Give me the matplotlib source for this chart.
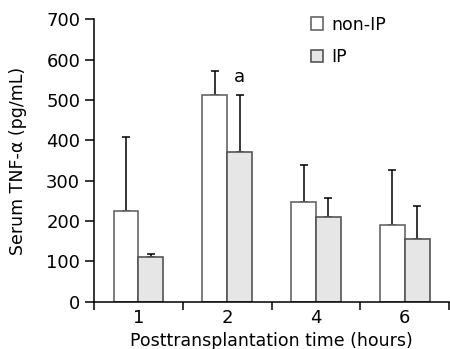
import matplotlib.pyplot as plt
import numpy as np

times = ["1", "2", "4", "6"]
non_ip = [224, 513, 247, 190]
non_ip_err = [184, 58, 92, 137]
ip = [110, 370, 209, 156]
ip_err = [9, 142, 48, 81]

plt.rcParams['font.family'] = ['DejaVu Sans']
plt.rcParams['font.size'] = 12.5

fig = plt.figure(figsize=(4.5, 3.49), dpi=100)
ax = fig.add_axes([0.209, 0.1355, 0.789, 0.8095])

x = np.arange(len(times)) + 0.5
w = 0.28
ax.bar(x - w / 2, non_ip, w, color="white", edgecolor="#666666", linewidth=1.2,
       label="non-IP", zorder=2)
ax.bar(x + w / 2, ip, w, color="#e6e6e6", edgecolor="#555555", linewidth=1.2,
       label="IP", zorder=2)
ax.errorbar(x - w / 2, non_ip, yerr=[np.zeros(4), non_ip_err], fmt="none",
            ecolor="black", elinewidth=1.1, capsize=3, capthick=1.1, zorder=1)
ax.errorbar(x + w / 2, ip, yerr=[np.zeros(4), ip_err], fmt="none",
            ecolor="black", elinewidth=1.1, capsize=3, capthick=1.1, zorder=1)

# significance mark
ax.text(x[1] + w / 2, 535, "a", ha="center", va="bottom", fontsize=13)

ax.set_xlim(0, 4)
ax.set_ylim(0, 700)
ax.set_yticks(range(0, 701, 100))
ax.set_xticks([0, 1, 2, 3, 4])
ax.set_xticklabels([])
ax.set_xticks(x, minor=True)
ax.set_xticklabels(times, minor=True)
ax.tick_params(axis="x", which="major", direction="out", length=6, width=1.1)
ax.tick_params(axis="x", which="minor", length=0, pad=5, labelsize=13)
ax.tick_params(axis="y", direction="out", length=6.5, width=1.1, labelsize=13)

for s in ["top", "right"]:
    ax.spines[s].set_visible(False)
for s in ["left", "bottom"]:
    ax.spines[s].set_linewidth(1.1)

ax.set_xlabel("Posttransplantation time (hours)", labelpad=4)
ax.set_ylabel("Serum TNF-\u03b1 (pg/mL)")
ax.yaxis.set_label_coords(-0.19, 0.5)

ax.legend(loc="upper left", bbox_to_anchor=(0.567, 1.068), frameon=False,
          handlelength=0.7, handleheight=0.7, handletextpad=0.45,
          labelspacing=0.85, fontsize=12.5)

fig.savefig("out.png", dpi=100)
